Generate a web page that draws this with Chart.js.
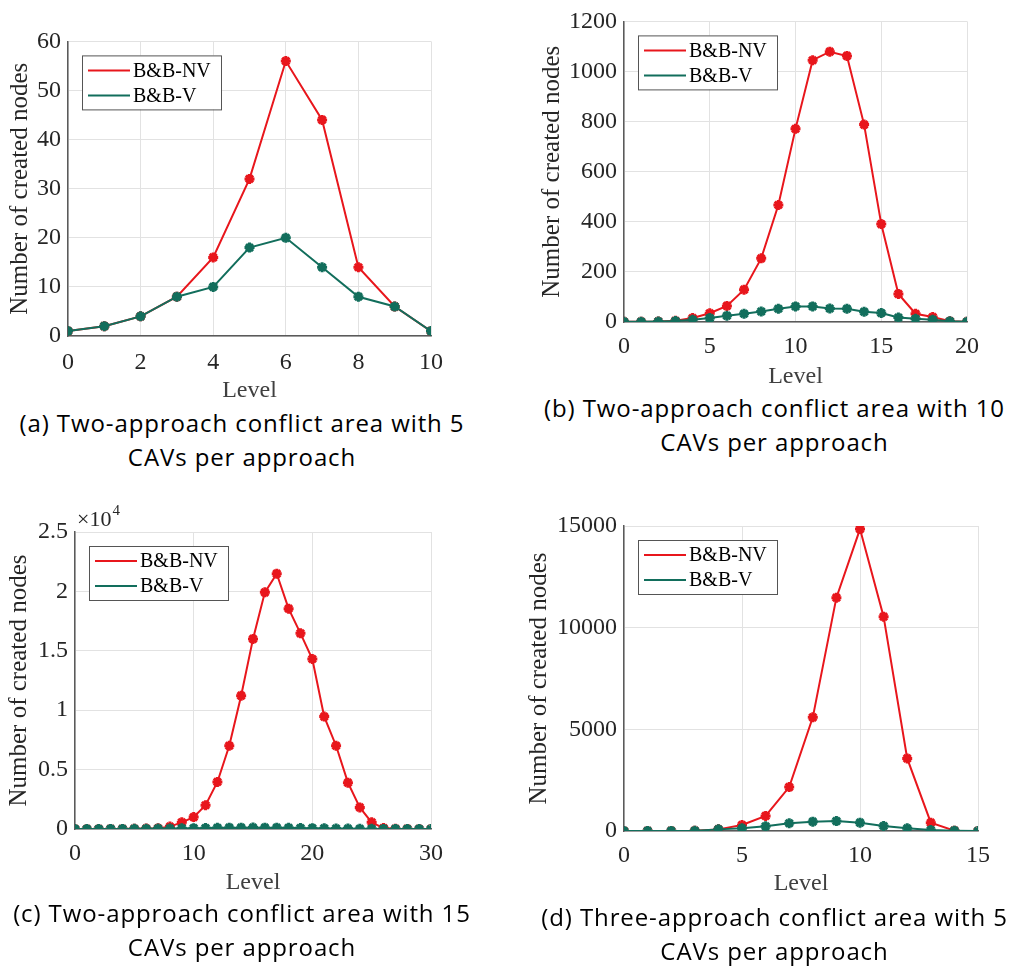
<!DOCTYPE html>
<html>
<head>
<meta charset="utf-8">
<script src="https://cdn.jsdelivr.net/npm/chart.js@4/dist/chart.umd.min.js"></script>
<style>
  body { margin: 0; background: #fff; width: 1009px; height: 966px; position: relative; overflow: hidden; }
  canvas { position: absolute; }
  .cap { position: absolute; font-family: "Open Sans", "Lato", sans-serif; font-size: 24px; letter-spacing: 0.9px; color: #000; text-align: center; white-space: nowrap; line-height: 34px; }
</style>
</head>
<body>
<canvas id="ca" width="470" height="385" style="left:0px;top:20px"></canvas>
<canvas id="cb" width="489" height="391" style="left:520px;top:0px"></canvas>
<canvas id="cc" width="470" height="397" style="left:0px;top:500px"></canvas>
<canvas id="cd" width="489" height="398" style="left:520px;top:500px"></canvas>

<div class="cap" style="left:0px;top:406px;width:484px">(a) Two-approach conflict area with 5<br>CAVs per approach</div>
<div class="cap" style="left:540px;top:391px;width:469px">(b) Two-approach conflict area with 10<br>CAVs per approach</div>
<div class="cap" style="left:0px;top:896px;width:484px">(c) Two-approach conflict area with 15<br>CAVs per approach</div>
<div class="cap" style="left:540px;top:900px;width:469px">(d) Three-approach conflict area with 5<br>CAVs per approach</div>

<script>
// (a) two-approach, 5 CAVs
var levelsA = [0, 1, 2, 3, 4, 5, 6, 7, 8, 9, 10];
var nvA = [1, 2, 4, 8, 16, 32, 56, 44, 14, 6, 1];
var vA  = [1, 2, 4, 8, 10, 18, 20, 14, 8, 6, 1];

// (b) two-approach, 10 CAVs
var levelsB = [0, 1, 2, 3, 4, 5, 6, 7, 8, 9, 10, 11, 12, 13, 14, 15, 16, 17, 18, 19, 20];
var nvB = [1, 1, 2, 5, 16, 35, 64, 129, 254, 467, 771, 1045, 1079, 1062, 788, 391, 112, 33, 20, 3, 1];
var vB  = [1, 1, 2, 4, 9, 16, 25, 33, 42, 53, 62, 62, 54, 53, 41, 36, 18, 13, 9, 3, 1];

// (c) two-approach, 15 CAVs
var levelsC = [0, 1, 2, 3, 4, 5, 6, 7, 8, 9, 10, 11, 12, 13, 14, 15, 16, 17, 18, 19, 20, 21, 22, 23, 24, 25, 26, 27, 28, 29, 30];
var nvC = [1, 1, 2, 4, 8, 16, 32, 60, 200, 560, 1000, 2000, 3960, 7010, 11220, 16000, 19920, 21490, 18550, 16470, 14310, 9460, 7010, 3900, 1820, 560, 80, 20, 4, 2, 1];
var vC  = [1, 1, 2, 4, 8, 14, 22, 32, 44, 58, 72, 86, 98, 108, 114, 116, 114, 108, 98, 86, 72, 58, 44, 32, 22, 14, 8, 4, 2, 1, 1];

// (d) three-approach, 5 CAVs
var levelsD = [0, 1, 2, 3, 4, 5, 6, 7, 8, 9, 10, 11, 12, 13, 14, 15];
var nvD = [1, 2, 4, 8, 80, 295, 740, 2160, 5590, 11475, 14850, 10540, 3570, 410, 16, 1];
var vD  = [1, 2, 4, 8, 80, 130, 230, 380, 460, 490, 410, 245, 130, 50, 16, 1];

var seriesNames = ["B&B-NV", "B&B-V"];
var red = "rgb(232, 22, 28)";
var green = "rgb(18, 110, 92)";
var serif = "'Liberation Serif', 'Times New Roman', serif";
var textColor = "#262626";

function points (levels, values) {
    let out = [];
    for (let i = 0; i < levels.length; i++) {
        out.push({ x: levels[i], y: values[i] });
    }
    return out;
}

// legend box drawn inside the plot area, MATLAB style
var boxLegend = {
    id: "boxLegend",
    afterDraw: function (chart) {
        let ctx = chart.ctx;
        let area = chart.chartArea;
        let bx = area.left + 14, by = area.top + 14;
        ctx.save();
        ctx.fillStyle = "#fff";
        ctx.fillRect(bx, by, 139, 54);
        ctx.strokeStyle = "#555";
        ctx.lineWidth = 1;
        ctx.strokeRect(bx + 0.5, by + 0.5, 139, 54);
        ctx.font = "20px " + serif;
        ctx.textBaseline = "middle";
        chart.data.datasets.forEach(function (ds, i) {
            let y = by + 15 + i * 25;
            ctx.strokeStyle = ds.borderColor;
            ctx.lineWidth = 2;
            ctx.beginPath();
            ctx.moveTo(bx + 6, y);
            ctx.lineTo(bx + 48, y);
            ctx.stroke();
            ctx.fillStyle = "#000";
            ctx.fillText(ds.label, bx + 51, y + 1);
        });
        ctx.restore();
    }
};

// "x10^4" exponent label above the y axis
var expLabel = {
    id: "expLabel",
    afterDraw: function (chart, args, opts) {
        if (!opts.text) return;
        let ctx = chart.ctx;
        let area = chart.chartArea;
        ctx.save();
        ctx.fillStyle = textColor;
        ctx.textBaseline = "alphabetic";
        ctx.font = "22px " + serif;
        ctx.fillText("\u00d710", area.left + 2, area.top - 6);
        let w = ctx.measureText("\u00d710").width;
        ctx.font = "15px " + serif;
        ctx.fillText(opts.text, area.left + 3 + w, area.top - 17);
        ctx.restore();
    }
};

function makeChart (id, levels, nv, v, opt) {
    let canvas = document.getElementById(id);
    return new Chart(canvas.getContext("2d"), {
        type: "line",
        data: {
            datasets: [
                {
                    label: seriesNames[0],
                    data: points(levels, nv),
                    borderColor: red,
                    backgroundColor: red,
                    borderWidth: 2,
                    pointStyle: "star",
                    pointRadius: 5,
                    pointBorderWidth: 3,
                    tension: 0,
                    order: 2
                },
                {
                    label: seriesNames[1],
                    data: points(levels, v),
                    borderColor: green,
                    backgroundColor: green,
                    borderWidth: 2,
                    pointStyle: "star",
                    pointRadius: 5,
                    pointBorderWidth: 3,
                    tension: 0,
                    order: 1
                }
            ]
        },
        options: {
            responsive: false,
            animation: false,
            layout: { padding: { top: opt.padTop, right: opt.padRight, left: 0, bottom: 0 } },
            plugins: {
                legend: { display: false },
                tooltip: { enabled: false },
                expLabel: { text: opt.exp || "" }
            },
            scales: {
                x: {
                    type: "linear",
                    min: 0,
                    max: opt.xMax,
                    ticks: {
                        stepSize: opt.xStep,
                        color: textColor,
                        font: { family: serif, size: 24 },
                        padding: opt.xTickPad,
                        maxRotation: 0
                    },
                    grid: { color: "#e2e2e2", drawTicks: false },
                    border: { color: "#5a5a5a", width: 1.5 },
                    title: {
                        display: true,
                        text: "Level",
                        color: "#404040",
                        font: { family: serif, size: 24 },
                        padding: 0
                    },
                    afterFit: function (s) { s.height = opt.xHeight; }
                },
                y: {
                    min: 0,
                    max: opt.yMax,
                    ticks: {
                        stepSize: opt.yStep,
                        color: textColor,
                        font: { family: serif, size: 24 },
                        padding: 7,
                        callback: opt.yFormat || function (val) { return val; }
                    },
                    grid: { color: "#e2e2e2", drawTicks: false },
                    border: { color: "#5a5a5a", width: 1.5 },
                    title: {
                        display: true,
                        text: "Number of created nodes",
                        color: textColor,
                        font: { family: serif, size: 25 },
                        padding: { top: opt.titlePad, bottom: 0 }
                    },
                    afterFit: function (s) { s.width = opt.yWidth; }
                }
            }
        },
        plugins: [boxLegend, expLabel]
    });
}

makeChart("ca", levelsA, nvA, vA, {
    padTop: 20, padRight: 39, yWidth: 68, xHeight: 405 - 336, titlePad: 5, xTickPad: 12,
    xMax: 10, xStep: 2, yMax: 60, yStep: 10
});
makeChart("cb", levelsB, nvB, vB, {
    padTop: 18, padRight: 42, yWidth: 104, xHeight: 391 - 322, titlePad: 17, xTickPad: 10,
    xMax: 20, xStep: 5, yMax: 1200, yStep: 200
});
makeChart("cc", levelsC, nvC, vC, {
    padTop: 32, padRight: 39, yWidth: 75, xHeight: 397 - 329, titlePad: 4, xTickPad: 10,
    xMax: 30, xStep: 10, yMax: 25000, yStep: 5000, exp: "4",
    yFormat: function (val) { return val / 10000; }
});
makeChart("cd", levelsD, nvD, vD, {
    padTop: 26, padRight: 31, yWidth: 104, xHeight: 398 - 331, titlePad: 4, xTickPad: 10,
    xMax: 15, xStep: 5, yMax: 15000, yStep: 5000
});
</script>
</body>
</html>
